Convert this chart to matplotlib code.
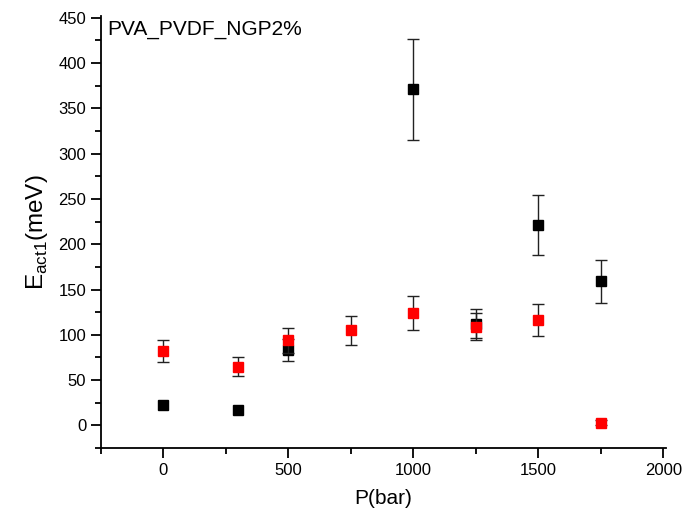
import matplotlib
matplotlib.use("Agg")
import matplotlib.pyplot as plt
from matplotlib.ticker import MultipleLocator
import numpy as np

plt.rcParams['font.family'] = ['Liberation Sans', 'DejaVu Sans']

# Activation energy vs pressure
p_black = [0, 300, 500, 1000, 1250, 1500, 1750]
e_black = [22, 17, 83, 371, 112, 221, 159]
err_black = [np.nan, np.nan, 12, 55.5, 16, 33, 24]

p_red = [0, 300, 500, 750, 1000, 1250, 1500, 1750]
e_red = [82, 65, 94, 105, 124, 109, 116, 3]
err_red = [12, 10, 14, 16, 18.5, 15, 17.5, 3]

fig = plt.figure(figsize=(6.85, 5.15), dpi=100)
ax = fig.add_axes([0.1474, 0.130, 0.8246, 0.839])

ax.errorbar(p_black, e_black, yerr=err_black, fmt='s', color='black',
            ecolor='#222222', elinewidth=1.0, capsize=4, capthick=1.0,
            markersize=7, zorder=3)
ax.errorbar(p_red, e_red, yerr=err_red, fmt='s', color='red',
            ecolor='#222222', elinewidth=1.0, capsize=4, capthick=1.0,
            markersize=7, zorder=4)

ax.set_xlim(-250, 2010)
ax.set_ylim(-25, 452)
ax.xaxis.set_major_locator(MultipleLocator(500))
ax.xaxis.set_minor_locator(MultipleLocator(250))
ax.yaxis.set_major_locator(MultipleLocator(50))
ax.yaxis.set_minor_locator(MultipleLocator(25))

for s in ['top', 'right']:
    ax.spines[s].set_visible(False)
for s in ['left', 'bottom']:
    ax.spines[s].set_linewidth(1.3)

ax.tick_params(which='major', direction='out', length=7, width=1.3, labelsize=12)
ax.tick_params(which='minor', direction='out', length=4, width=1.3)

ax.set_xlabel('P(bar)', fontsize=15, labelpad=8)
ax.set_ylabel(r'E$_{\mathregular{act1}}$(meV)', fontsize=17.5, labelpad=6)

ax.text(0.012, 0.99, 'PVA_PVDF_NGP2%', transform=ax.transAxes,
        fontsize=15, va='top', ha='left')

fig.savefig('out.png', dpi=100)
